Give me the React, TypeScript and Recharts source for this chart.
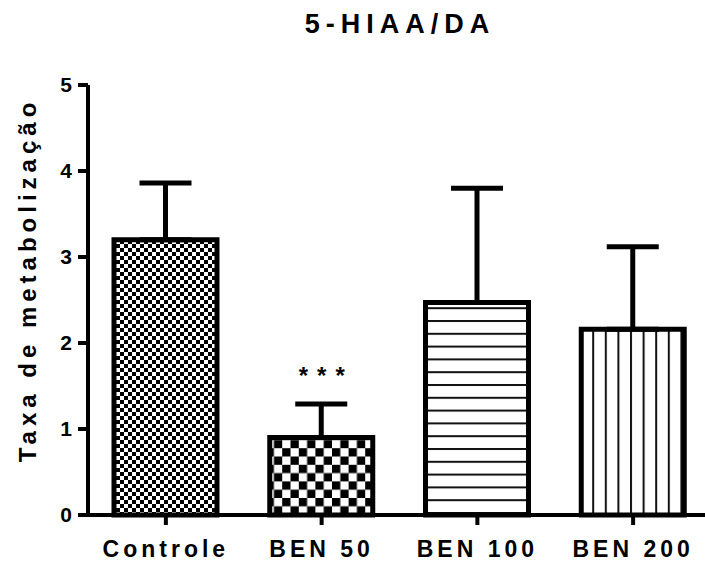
import React from 'react';
import { BarChart, Bar, XAxis, YAxis, ErrorBar, Cell, LabelList } from 'recharts';

const groups = ['Controle', 'BEN 50', 'BEN 100', 'BEN 200'];
const means = [3.2, 0.9, 2.47, 2.16];
const errUpper = [0.66, 0.39, 1.33, 0.96];
const marks = ['', '***', '', ''];
const fills = ['fineCheck', 'coarseCheck', 'hLines', 'vLines'];
const yTicks = [0, 1, 2, 3, 4, 5];

const data = groups.map((name, i) => ({
  name,
  value: means[i],
  err: [0, errUpper[i]],
  sig: marks[i],
}));

const FONT = '"Liberation Sans", Arial, sans-serif';

// asterisks sit above the error bar cap, not the bar top
const SigLabel = (props: any) => {
  const { x, y, width, height, value, index } = props;
  if (!value) return null;
  const errPx = (height / means[index]) * errUpper[index];
  return (
    <text
      x={x + width / 2 + 5}
      y={y - errPx - 20}
      textAnchor="middle"
      fontFamily={FONT}
      fontWeight="bold"
      fontSize={24}
      letterSpacing={9}
      fill="#000"
    >
      {value}
    </text>
  );
};

const YLabel = (props: any) => {
  const { viewBox } = props;
  const cy = viewBox.y + viewBox.height / 2 - 20;
  return (
    <text
      x={36}
      y={cy}
      transform={`rotate(-90 36 ${cy})`}
      textAnchor="middle"
      fontFamily={FONT}
      fontWeight="bold"
      fontSize={24}
      letterSpacing={5}
      fill="#000"
    >
      Taxa de metabolização
    </text>
  );
};

export default function App() {
  return (
    <div style={{ position: 'absolute', left: 0, top: 0, width: 705, height: 567, overflow: 'hidden', background: '#fff' }}>
      <svg width={705} height={60} style={{ position: 'absolute', left: 0, top: 0 }}>
        <text
          x={400}
          y={33}
          textAnchor="middle"
          fontFamily={FONT}
          fontWeight="bold"
          fontSize={27}
          letterSpacing={6}
          fill="#000"
        >
          5-HIAA/DA
        </text>
      </svg>
      <BarChart
        width={715}
        height={567}
        data={data}
        margin={{ top: 85, right: 4, bottom: 0, left: 0 }}
        barCategoryGap={0}
      >
        <defs>
          <pattern id="fineCheck" patternUnits="userSpaceOnUse" width={8} height={8}>
            <rect width={8} height={8} fill="#fff" />
            <rect x={0} y={0} width={4} height={4} fill="#000" />
            <rect x={4} y={4} width={4} height={4} fill="#000" />
          </pattern>
          <pattern id="coarseCheck" patternUnits="userSpaceOnUse" width={16.6} height={16.6}>
            <rect width={16.6} height={16.6} fill="#fff" />
            <rect x={0} y={0} width={8.3} height={8.3} fill="#000" />
            <rect x={8.3} y={8.3} width={8.3} height={8.3} fill="#000" />
          </pattern>
          <pattern id="hLines" patternUnits="userSpaceOnUse" width={12.8} height={12.8}>
            <rect width={12.8} height={12.8} fill="#fff" />
            <rect x={0} y={0} width={12.8} height={2} fill="#111" />
          </pattern>
          <pattern id="vLines" patternUnits="userSpaceOnUse" width={12.6} height={12.6}>
            <rect width={12.6} height={12.6} fill="#fff" />
            <rect x={0} y={0} width={2} height={12.6} fill="#111" />
          </pattern>
        </defs>
        <XAxis
          dataKey="name"
          interval={0}
          height={52}
          tickSize={10}
          tickMargin={16}
          axisLine={{ stroke: '#000', strokeWidth: 4 }}
          tickLine={{ stroke: '#000', strokeWidth: 4 }}
          tick={{ fill: '#000', fontFamily: FONT, fontWeight: 'bold', fontSize: 23, letterSpacing: 4 }}
        />
        <YAxis
          width={88}
          domain={[0, 5]}
          ticks={yTicks}
          tickSize={10}
          tickMargin={6}
          axisLine={{ stroke: '#000', strokeWidth: 4 }}
          tickLine={{ stroke: '#000', strokeWidth: 4 }}
          tick={{ fill: '#000', fontFamily: FONT, fontWeight: 'bold', fontSize: 21 }}
          label={<YLabel />}
        />
        <Bar dataKey="value" barSize={103} stroke="#000" strokeWidth={5} isAnimationActive={false}>
          {data.map((d, i) => (
            <Cell key={d.name} fill={`url(#${fills[i]})`} />
          ))}
          <ErrorBar dataKey="err" direction="y" width={26} stroke="#000" strokeWidth={5} isAnimationActive={false} />
          <LabelList dataKey="sig" content={<SigLabel />} />
        </Bar>
      </BarChart>
    </div>
  );
}
